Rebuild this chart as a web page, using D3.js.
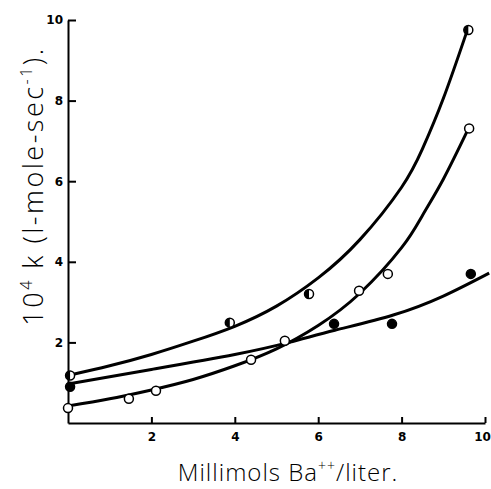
<!DOCTYPE html>
<html>
<head>
<meta charset="utf-8">
<script src="https://cdn.jsdelivr.net/npm/d3@7"></script>
<style>
  body { margin: 0; background: #fff; }
  svg { display: block; }
</style>
</head>
<body>
<svg id="chart" width="491" height="489"></svg>
<script>
// measured points (millimols Ba++/liter, 10^4 k)
const halfPts = [[0.05, 1.18], [3.88, 2.49], [5.78, 3.2], [9.6, 9.75]];
const openPts = [[0, 0.37], [1.46, 0.6], [2.11, 0.8], [4.39, 1.57], [5.2, 2.04], [6.98, 3.28], [7.67, 3.7], [9.62, 7.31]];
const filledPts = [[0.05, 0.9], [6.38, 2.46], [7.77, 2.46], [9.66, 3.7]];

// hand-drawn fitted curves
const curveTop = [[0, 1.18], [1, 1.42], [2, 1.7], [3, 2.03], [4, 2.4], [5, 2.9], [6, 3.6], [7, 4.55], [8, 5.85], [8.5, 6.8], [9, 8.05], [9.57, 9.73]];
const curveMid = [[0, 0.42], [1, 0.6], [2, 0.82], [3, 1.08], [4, 1.42], [5, 1.84], [6, 2.42], [7, 3.22], [8, 4.35], [8.5, 5.15], [9, 6.05], [9.6, 7.3]];
const curveLow = [[0, 0.97], [2, 1.33], [4, 1.7], [5.3, 2.0], [6.4, 2.3], [7.8, 2.68], [9, 3.15], [10.1, 3.72]];

const xTicks = [2, 4, 6, 8, 10];
const yTicks = [2, 4, 6, 8, 10];

const svg = d3.select("#chart");
const x = d3.scaleLinear().domain([0, 10]).range([68, 485]);
const y = d3.scaleLinear().domain([0, 10]).range([423, 20]);

// axes, ticks point inward
const xAxis = svg.append("g")
    .attr("transform", `translate(0,${y(0)})`)
    .call(d3.axisBottom(x).tickValues(xTicks).tickSizeInner(-6).tickSizeOuter(0).tickPadding(9));
const yAxis = svg.append("g")
    .attr("transform", `translate(${x(0)},0)`)
    .call(d3.axisLeft(y).tickValues(yTicks).tickSizeInner(-8).tickSizeOuter(0).tickPadding(5));

[xAxis, yAxis].forEach(ax => {
    ax.select(".domain").attr("stroke", "#000").attr("stroke-width", 2);
    ax.selectAll(".tick line").attr("stroke", "#000").attr("stroke-width", 2);
    ax.selectAll(".tick text")
        .attr("fill", "#000")
        .style("font-family", "'DejaVu Sans', sans-serif")
        .style("font-weight", "bold")
        .style("font-size", "12px");
});
// last x label sits at the page edge, pull it in a little
xAxis.selectAll(".tick text").filter(d => d === 10).attr("dx", -3);

const line = d3.line()
    .x(d => x(d[0]))
    .y(d => y(d[1]))
    .curve(d3.curveNatural);

[curveTop, curveMid, curveLow].forEach(c => {
    svg.append("path")
        .attr("d", line(c))
        .attr("fill", "none")
        .attr("stroke", "#000")
        .attr("stroke-width", 3);
});

const r = 4.5;

// open circles
svg.selectAll(".open").data(openPts).join("circle")
    .attr("cx", d => x(d[0])).attr("cy", d => y(d[1])).attr("r", r)
    .attr("fill", "#fff").attr("stroke", "#000").attr("stroke-width", 1.5);

// filled circles
svg.selectAll(".filled").data(filledPts).join("circle")
    .attr("cx", d => x(d[0])).attr("cy", d => y(d[1])).attr("r", r)
    .attr("fill", "#000").attr("stroke", "#000").attr("stroke-width", 1.5);

// half filled circles (left half black)
const half = svg.selectAll(".half").data(halfPts).join("g")
    .attr("transform", d => `translate(${x(d[0])},${y(d[1])})`);
half.append("circle").attr("r", r)
    .attr("fill", "#fff").attr("stroke", "#000").attr("stroke-width", 1.5);
half.append("path")
    .attr("d", `M0,${-r} A${r},${r} 0 0 0 0,${r} Z`)
    .attr("fill", "#000");

// axis titles, thin lettering
const yTitle = svg.append("text")
    .attr("transform", "translate(43,186) rotate(-90)")
    .attr("text-anchor", "middle")
    .style("font-family", "'Open Sans', 'DejaVu Sans', sans-serif")
    .style("font-weight", 300)
    .style("font-size", "27px")
    .style("letter-spacing", "2.5px")
    .attr("fill", "#000");
yTitle.append("tspan").text("10");
yTitle.append("tspan").attr("dy", -11).style("font-size", "16px").text("4");
yTitle.append("tspan").attr("dy", 11).text(" k  (l-mole-sec");
yTitle.append("tspan").attr("dy", -11).style("font-size", "16px").text("-1");
yTitle.append("tspan").attr("dy", 11).text(").");

const xTitle = svg.append("text")
    .attr("x", 288).attr("y", 481)
    .attr("text-anchor", "middle")
    .style("font-family", "'Open Sans', 'DejaVu Sans', sans-serif")
    .style("font-weight", 300)
    .style("font-size", "24px")
    .style("letter-spacing", "1px")
    .attr("fill", "#000");
xTitle.append("tspan").text("Millimols  Ba");
xTitle.append("tspan").attr("dy", -10).style("font-size", "14px").text("++");
xTitle.append("tspan").attr("dy", 10).text("/liter.");
</script>
</body>
</html>
